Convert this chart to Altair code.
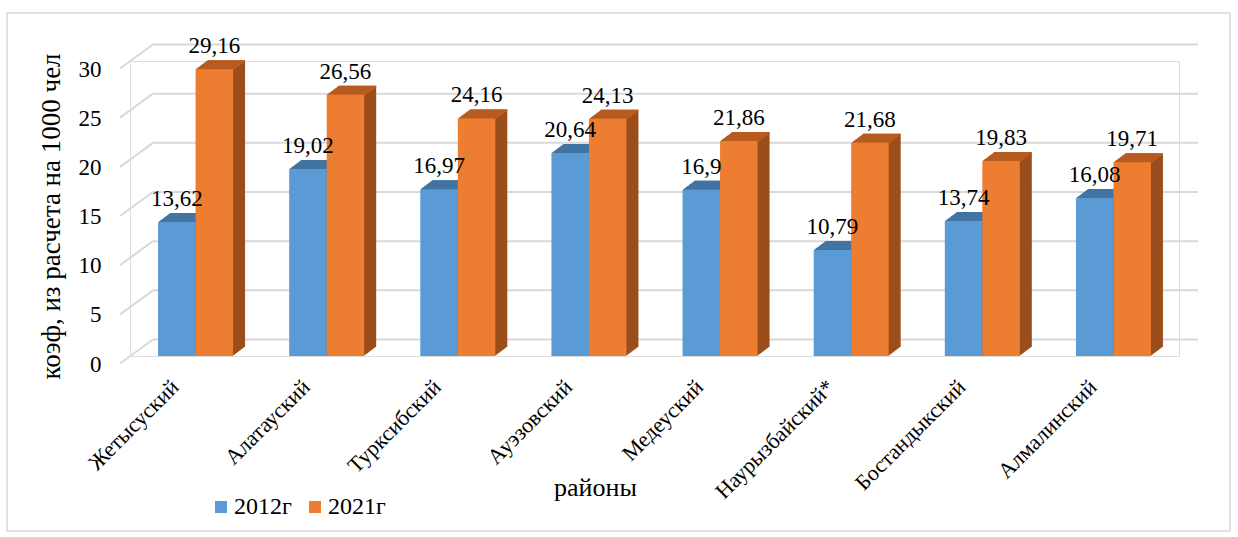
import altair as alt
import pandas as pd

# Districts and coefficient per 1000 population
districts = ["Жетысуский", "Алатауский", "Турксибский", "Ауэзовский",
             "Медеуский", "Наурызбайский*", "Бостандыкский", "Алмалинский"]
values_2012 = [13.62, 19.02, 16.97, 20.64, 16.9, 10.79, 13.74, 16.08]
values_2021 = [29.16, 26.56, 24.16, 24.13, 21.86, 21.68, 19.83, 19.71]
series = ["2012г", "2021г"]
y_ticks = [0, 5, 10, 15, 20, 25, 30]

FONT = "Times New Roman"
BLUE, BLUE_TOP, BLUE_SIDE = "#5B9BD5", "#4477A6", "#3A6895"
ORANGE, ORANGE_TOP, ORANGE_SIDE = "#ED7D31", "#BF5F20", "#9B4E1D"
GRID = "#D9D9D9"

W, H = 1049, 295
BAR_W = 0.286          # width of one bar, in category units

rows = []
for k, (d, a, b) in enumerate(zip(districts, values_2012, values_2021)):
    for j, (s, v) in enumerate(zip(series, (a, b))):
        left = k - BAR_W + j * BAR_W
        rows.append({"idx": k, "district": d, "series": s, "value": v,
                     "x0": left, "x1": left + BAR_W, "xm": left + BAR_W / 2,
                     "label": f"{v:g}".replace(".", ",")})
df = pd.DataFrame(rows)
grid_df = pd.DataFrame({"value": y_ticks})

names_js = "[" + ",".join(f"'{d}'" for d in districts) + "]"

y_axis = alt.Axis(values=y_ticks, grid=False, domain=False, ticks=False,
                  labelFont=FONT, labelFontSize=23, labelColor="black",
                  labelPadding=29, labelOffset=8,
                  title="коэф, из расчета на  1000 чел", titleFont=FONT,
                  titleFontSize=27, titleFontWeight="normal", titleColor="black",
                  titleX=-79, titleY=155, titleAngle=-90,
                  titleAlign="center", titleBaseline="middle")
x_axis = alt.Axis(values=list(range(len(districts))),
                  labelExpr=f"{names_js}[datum.value]",
                  labelAngle=-45, labelFont=FONT, labelFontSize=22,
                  labelColor="black", labelPadding=20, labelOffset=-28,
                  domain=False, ticks=False, grid=False,
                  title="районы", titleFont=FONT, titleFontSize=26,
                  titleFontWeight="normal", titleColor="black",
                  titleX=465, titleY=139, titleAlign="center",
                  titleBaseline="alphabetic")

XS = alt.Scale(domain=[-0.5, len(districts) - 0.5], nice=False, zero=False)
X = alt.X("x0:Q", scale=XS, axis=x_axis)
Y = alt.Y("value:Q", axis=y_axis, scale=alt.Scale(domain=[0, 30], nice=False))

base = alt.Chart(df).encode(x=X, x2="x1:Q", y=Y)
is_2012 = alt.datum.series == "2012г"

# frame around the whole figure
frame = alt.Chart(pd.DataFrame({"k": [0]})).mark_rect(
    fillOpacity=0, stroke=GRID, strokeWidth=1.5
).encode(x=alt.value(-123), x2=alt.value(1100), y=alt.value(-48), y2=alt.value(470))

# back-wall gridlines and the slanted floor edges leading to them
BACK, FRONT = -16.5, 7.5
grid_back = alt.Chart(grid_df).mark_rule(
    color=GRID, strokeWidth=2, yOffset=BACK, y2Offset=BACK
).encode(x=alt.value(23), x2=alt.value(1068), y=Y, y2="value:Q")
grid_side = alt.Chart(grid_df).mark_rule(
    color=GRID, strokeWidth=2, yOffset=FRONT, y2Offset=BACK
).encode(x=alt.value(-10), x2=alt.value(23), y=Y, y2="value:Q")

# extruded depth of each bar: side and top faces built from stepped copies
N, DX, DY = 12, 12.0, 9.0
depth_layers = []
for i in range(N, 0, -1):
    ox = DX * i / N
    oy = -DY * i / N
    side = base.mark_bar(xOffset=ox, x2Offset=ox, yOffset=oy, y2Offset=oy).encode(
        y2=alt.datum(0),
        color=alt.condition(is_2012, alt.value(BLUE_SIDE), alt.value(ORANGE_SIDE)))
    top = base.mark_bar(xOffset=ox, x2Offset=ox, yOffset=oy,
                        y2Offset=oy + DY / N + 0.8).encode(
        y2="value:Q",
        color=alt.condition(is_2012, alt.value(BLUE_TOP), alt.value(ORANGE_TOP)))
    depth_layers += [side, top]

front = base.mark_bar().encode(
    y2=alt.datum(0),
    color=alt.Color("series:N", sort=series,
                    scale=alt.Scale(domain=series, range=[BLUE, ORANGE]),
                    legend=alt.Legend(orient="none", legendX=79, legendY=434,
                                      padding=0, direction="horizontal",
                                      title=None, symbolType="square",
                                      symbolSize=144, symbolStrokeWidth=0,
                                      labelFont=FONT, labelFontSize=24,
                                      labelColor="black", labelOffset=1,
                                      columnPadding=11)))

labels = alt.Chart(df).mark_text(dy=-16, baseline="alphabetic", font=FONT,
                                 fontSize=23, color="black").encode(
    x=alt.X("xm:Q", scale=XS, axis=x_axis), y=Y, text="label:N")

chart = alt.layer(frame, grid_back, grid_side, *depth_layers, front, labels).properties(
    width=W, height=H,
    autosize=alt.AutoSizeParams(type="none"),
    padding={"left": 130, "top": 61, "right": 59, "bottom": 181},
    background="white",
).configure_view(stroke=None).configure(font=FONT)

chart.save("out.html", embed_options={"renderer": "svg", "actions": False})
